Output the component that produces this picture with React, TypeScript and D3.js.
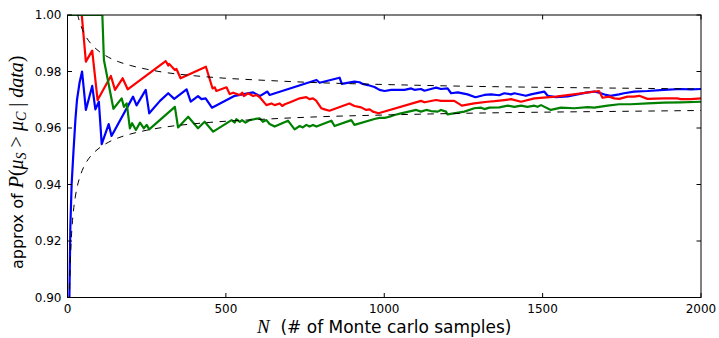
import React from "react";
import * as d3 from "d3";

const W = 719;
const H = 338;
const M = { left: 67.5, right: 701, top: 15, bottom: 297.5 };

const xTicks = [0, 500, 1000, 1500, 2000];
const yTicks = [0.9, 0.92, 0.94, 0.96, 0.98, 1.0];

const blueN = [3, 6, 9, 13, 19, 25, 30, 38, 46, 58, 78, 88, 99, 108, 130, 139, 207, 218, 247, 258, 292, 318, 337, 376, 389, 412, 423, 436, 456, 528, 586, 607, 631, 638, 786, 796, 859, 866, 906, 922, 932, 948, 969, 985, 1001, 1022, 1064, 1085, 1095, 1116, 1127, 1153, 1164, 1179, 1200, 1211, 1232, 1263, 1288, 1316, 1337, 1363, 1379, 1400, 1411, 1447, 1463, 1505, 1516, 1542, 1579, 1610, 1642, 1663, 1684, 1700, 1715, 1741, 1757, 1789, 1831, 1883, 1936, 1968, 2000];
const blueP = [0.85, 0.9, 0.925, 0.94, 0.952, 0.963, 0.97, 0.976, 0.98, 0.9664, 0.9749, 0.9666, 0.9693, 0.9543, 0.9614, 0.9572, 0.9711, 0.968, 0.9735, 0.9652, 0.9696, 0.9723, 0.9703, 0.9737, 0.9693, 0.9713, 0.9702, 0.9705, 0.9672, 0.9714, 0.9726, 0.9713, 0.9729, 0.9717, 0.977, 0.976, 0.9778, 0.9756, 0.9764, 0.9762, 0.9756, 0.9752, 0.9745, 0.9735, 0.9731, 0.9735, 0.9735, 0.974, 0.9735, 0.9738, 0.9732, 0.974, 0.9743, 0.9738, 0.974, 0.9723, 0.9726, 0.9719, 0.9709, 0.9717, 0.9719, 0.9716, 0.9723, 0.9719, 0.9723, 0.9714, 0.9719, 0.9729, 0.9714, 0.9709, 0.9712, 0.9719, 0.9726, 0.9729, 0.9723, 0.9717, 0.9714, 0.9719, 0.9723, 0.9729, 0.9731, 0.9735, 0.9738, 0.9737, 0.9738];

const redN = [1, 45, 58, 78, 95, 137, 150, 174, 190, 310, 318, 321, 339, 344, 357, 437, 458, 465, 470, 502, 512, 523, 544, 552, 557, 570, 586, 596, 607, 628, 644, 654, 670, 678, 686, 701, 733, 754, 764, 775, 785, 801, 812, 827, 890, 906, 927, 943, 954, 964, 982, 1116, 1127, 1164, 1179, 1221, 1245, 1284, 1326, 1348, 1379, 1400, 1432, 1474, 1542, 1678, 1689, 1710, 1726, 1742, 1768, 1789, 1805, 1831, 1883, 1925, 1936, 1968, 2000];
const redP = [1.0, 1.0, 0.9835, 0.9874, 0.9699, 0.9784, 0.9735, 0.9776, 0.9737, 0.9837, 0.9821, 0.9827, 0.9805, 0.9809, 0.9776, 0.9817, 0.974, 0.9744, 0.9731, 0.9744, 0.972, 0.9725, 0.9717, 0.9725, 0.9713, 0.9723, 0.9713, 0.9717, 0.9709, 0.9681, 0.9687, 0.9681, 0.9687, 0.9678, 0.9684, 0.969, 0.9705, 0.9709, 0.9702, 0.9705, 0.9697, 0.967, 0.9666, 0.9661, 0.9687, 0.9678, 0.9673, 0.9664, 0.9666, 0.9658, 0.9652, 0.9696, 0.9691, 0.9699, 0.9696, 0.9696, 0.9679, 0.9687, 0.9693, 0.9695, 0.9699, 0.9702, 0.9693, 0.9705, 0.9711, 0.9731, 0.9707, 0.9711, 0.9705, 0.9703, 0.9711, 0.9711, 0.9714, 0.9703, 0.9705, 0.9705, 0.9702, 0.9702, 0.9705];

const greenN = [1, 110, 115, 145, 171, 178, 187, 197, 204, 216, 229, 241, 250, 258, 339, 349, 381, 412, 433, 460, 518, 528, 533, 544, 551, 562, 575, 593, 607, 617, 628, 638, 654, 696, 717, 733, 743, 754, 764, 775, 786, 833, 843, 896, 906, 969, 985, 1001, 1017, 1032, 1053, 1101, 1116, 1132, 1148, 1169, 1179, 1195, 1200, 1253, 1284, 1306, 1316, 1332, 1363, 1390, 1411, 1432, 1452, 1474, 1484, 1495, 1526, 1558, 1600, 1642, 1663, 1705, 1742, 1778, 1831, 1883, 1936, 2000];
const greenP = [1.0, 1.0, 0.9841, 0.9668, 0.9705, 0.9675, 0.9687, 0.9599, 0.9617, 0.9593, 0.9619, 0.9599, 0.9611, 0.9595, 0.9675, 0.9602, 0.964, 0.9599, 0.9622, 0.9587, 0.9628, 0.9619, 0.9631, 0.9622, 0.9628, 0.9619, 0.9628, 0.9632, 0.9634, 0.9622, 0.9628, 0.9614, 0.9605, 0.9626, 0.9595, 0.9607, 0.9602, 0.9611, 0.9605, 0.9611, 0.9605, 0.9626, 0.9607, 0.9628, 0.9611, 0.9632, 0.9636, 0.9636, 0.964, 0.9646, 0.9652, 0.9664, 0.9658, 0.9664, 0.966, 0.9658, 0.9664, 0.9658, 0.9648, 0.9658, 0.967, 0.9672, 0.9667, 0.9672, 0.9673, 0.9679, 0.9675, 0.9679, 0.9675, 0.9679, 0.9675, 0.9681, 0.9664, 0.9672, 0.967, 0.9674, 0.9672, 0.9679, 0.9684, 0.9684, 0.9687, 0.969, 0.9691, 0.9693];

const boundN = [5, 6, 7, 8, 10, 12, 15, 20, 25, 30, 40, 50, 60, 80, 100, 130, 160, 200, 250, 300, 400, 500, 600, 800, 1000, 1250, 1500, 1750, 2000];
const upperBound = [1.0463, 1.0396, 1.0345, 1.0303, 1.0239, 1.0192, 1.014, 1.0081, 1.0041, 1.0011, 0.997, 0.9941, 0.992, 0.9891, 0.9871, 0.985, 0.9835, 0.9821, 0.9808, 0.9798, 0.9785, 0.9776, 0.977, 0.976, 0.9754, 0.9748, 0.9744, 0.9741, 0.9738];
const lowerBound = [0.8937, 0.9004, 0.9055, 0.9097, 0.9161, 0.9208, 0.926, 0.9319, 0.9359, 0.9389, 0.943, 0.9459, 0.948, 0.9509, 0.9529, 0.955, 0.9565, 0.9579, 0.9592, 0.9602, 0.9615, 0.9624, 0.963, 0.964, 0.9646, 0.9652, 0.9656, 0.9659, 0.9662];

const series = [
  { n: blueN, p: blueP, color: "#0000ff" },
  { n: redN, p: redP, color: "#ff0000" },
  { n: greenN, p: greenP, color: "#008000" },
];

export default function App() {
  const x = d3.scaleLinear().domain([0, 2000]).range([M.left, M.right]);
  const y = d3.scaleLinear().domain([0.9, 1.0]).range([M.bottom, M.top]);
  const line = d3
    .line<[number, number]>()
    .x((d) => x(d[0]))
    .y((d) => y(d[1]));
  const smooth = d3
    .line<[number, number]>()
    .x((d) => x(d[0]))
    .y((d) => y(d[1]))
    .curve(d3.curveMonotoneX);
  const zip = (a: number[], b: number[]) => a.map((v, i) => [v, b[i]] as [number, number]);
  const tickLen = 4.5;
  const font = "'DejaVu Sans', sans-serif";
  const serif = "'Liberation Serif', serif";
  const pw = M.right - M.left;
  const ph = M.bottom - M.top;
  const cy = (M.top + M.bottom) / 2 + 6;
  const cx = (M.left + M.right) / 2;

  return (
    <svg
      width={W}
      height={H}
      style={{ position: "absolute", left: 0, top: 0, display: "block", background: "#fff" }}
    >
      <defs>
        <clipPath id="plotclip">
          <rect x={M.left} y={M.top} width={pw} height={ph} />
        </clipPath>
      </defs>
      <g clipPath="url(#plotclip)">
        {series.map((s, i) => (
          <path
            key={i}
            d={line(zip(s.n, s.p)) || ""}
            fill="none"
            stroke={s.color}
            strokeWidth={2.2}
            strokeLinejoin="round"
          />
        ))}
        <path d={smooth(zip(boundN, upperBound)) || ""} fill="none" stroke="#000" strokeWidth={1} strokeDasharray="6.5,6.5" />
        <path d={smooth(zip(boundN, lowerBound)) || ""} fill="none" stroke="#000" strokeWidth={1} strokeDasharray="6.5,6.5" />
      </g>
      <rect x={M.left} y={M.top} width={pw} height={ph} fill="none" stroke="#000" strokeWidth={1} />
      {xTicks.map((t) => (
        <g key={"x" + t}>
          <line x1={x(t)} x2={x(t)} y1={M.bottom} y2={M.bottom - tickLen} stroke="#000" />
          <line x1={x(t)} x2={x(t)} y1={M.top} y2={M.top + tickLen} stroke="#000" />
          <text x={x(t)} y={M.bottom + 15} textAnchor="middle" fontFamily={font} fontSize={12} fill="#000">
            {t}
          </text>
        </g>
      ))}
      {yTicks.map((t) => (
        <g key={"y" + t}>
          <line x1={M.left} x2={M.left + tickLen} y1={y(t)} y2={y(t)} stroke="#000" />
          <line x1={M.right} x2={M.right - tickLen} y1={y(t)} y2={y(t)} stroke="#000" />
          <text x={M.left - 6} y={y(t) + 4.3} textAnchor="end" fontFamily={font} fontSize={12} fill="#000">
            {d3.format(".2f")(t)}
          </text>
        </g>
      ))}
      <text x={cx} y={333} textAnchor="middle" fontFamily={font} fontSize={17} fill="#000">
        <tspan fontFamily={serif} fontStyle="italic" fontSize={19}>N</tspan>
        <tspan>{"\u00a0 (# of Monte carlo samples)"}</tspan>
      </text>
      <text
        transform={`translate(23, ${cy}) rotate(-90)`}
        textAnchor="middle"
        fontFamily={font}
        fontSize={16}
        fill="#000"
      >
        <tspan>{"approx of "}</tspan>
        <tspan fontFamily={serif} fontStyle="italic" fontSize={20}>P</tspan>
        <tspan fontFamily={serif} fontSize={20}>(</tspan>
        <tspan fontFamily={serif} fontStyle="italic" fontSize={20}>μ</tspan>
        <tspan fontFamily={serif} fontStyle="italic" fontSize={14} dy={3}>S</tspan>
        <tspan fontFamily={serif} fontSize={20} dy={-3}>{" > "}</tspan>
        <tspan fontFamily={serif} fontStyle="italic" fontSize={20}>μ</tspan>
        <tspan fontFamily={serif} fontStyle="italic" fontSize={14} dy={3}>C</tspan>
        <tspan fontFamily={serif} fontSize={20} dy={-3}>{" | "}</tspan>
        <tspan fontFamily={serif} fontStyle="italic" fontSize={20}>data</tspan>
        <tspan fontFamily={serif} fontSize={20}>)</tspan>
      </text>
    </svg>
  );
}
